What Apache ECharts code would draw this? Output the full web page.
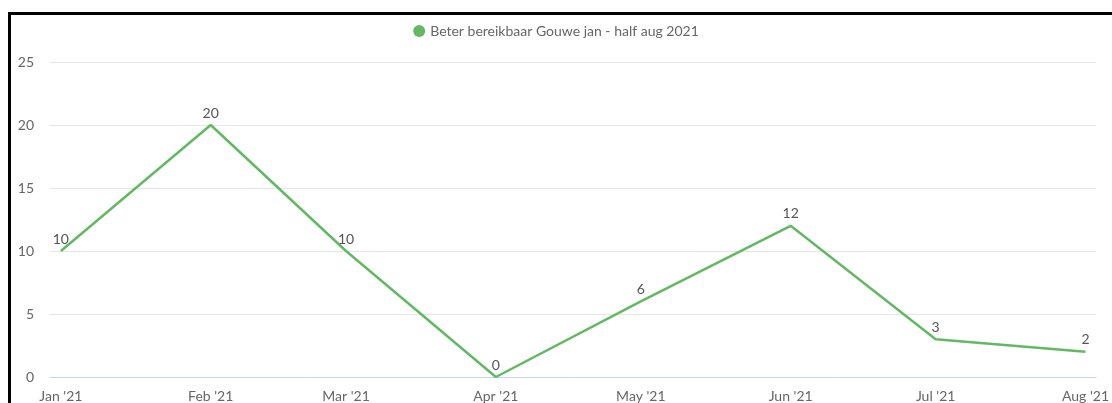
<!DOCTYPE html>
<html><head><meta charset="utf-8">
<script src="https://cdn.jsdelivr.net/npm/echarts@6/dist/echarts.min.js"></script>
<style>
html,body{margin:0;padding:0;background:#fff;overflow:hidden}
#c{width:1112px;height:403px;position:absolute;left:0;top:0}
#b{position:absolute;left:8px;top:12px;width:1200px;height:500px;border-top:3px solid #000;border-left:3px solid #000;pointer-events:none}
</style></head><body>
<div id="c"></div><div id="b"></div>
<script>
const categories = ["Jan '21","Feb '21","Mar '21","Apr '21","May '21","Jun '21","Jul '21","Aug '21"];
const dates = ["2021-01-01","2021-02-01","2021-03-01","2021-04-01","2021-05-01","2021-06-01","2021-07-01","2021-08-01"];
const values = [10,20,10,0,6,12,3,2];
const seriesName = "Beter bereikbaar Gouwe jan - half aug 2021";
const yTicks = [0,5,10,15,20,25];

const DAY = 86400000;
const t0 = Date.parse(dates[0]);
const days = dates.map(d => Math.round((Date.parse(d) - t0) / DAY));
const chart = echarts.init(document.getElementById('c'));
chart.setOption({
  animation:false,
  textStyle:{fontFamily:'Lato'},
  legend:{top:19,left:'center',icon:'circle',itemWidth:12,itemHeight:12,itemGap:8,
    textStyle:{color:'#666',fontSize:14,fontFamily:'Lato'},data:[seriesName]},
  grid:{left:50,right:4,top:62,bottom:22,containLabel:false},
  xAxis:{type:'value',min:-2.25,max:days[days.length-1]+2.25,
    axisLine:{show:true,lineStyle:{color:'#ccd6eb',width:1}},
    axisTick:{show:false},splitLine:{show:false},
    axisLabel:{customValues:days,color:'#666',fontSize:14,fontFamily:'Lato',margin:12,
      formatter:v=>categories[days.indexOf(Math.round(v))] || ''}},
  yAxis:{type:'value',min:0,max:25,interval:5,
    axisLine:{show:false},axisTick:{show:false},
    splitLine:{lineStyle:{color:'#e6e6e6',width:1}},
    axisLabel:{color:'#666',fontSize:14,fontFamily:'Lato',margin:16,
      formatter:v=>yTicks.includes(v)?String(v):''}},
  series:[{name:seriesName,type:'line',data:values.map((v,i)=>[days[i],v]),
    color:'#63b963',lineStyle:{width:2.5,color:'#63b963'},
    symbol:'circle',symbolSize:0,showSymbol:true,
    label:{show:true,position:'top',distance:5,color:'#555',fontSize:14,fontFamily:'Lato'}}]
});
</script></body></html>
